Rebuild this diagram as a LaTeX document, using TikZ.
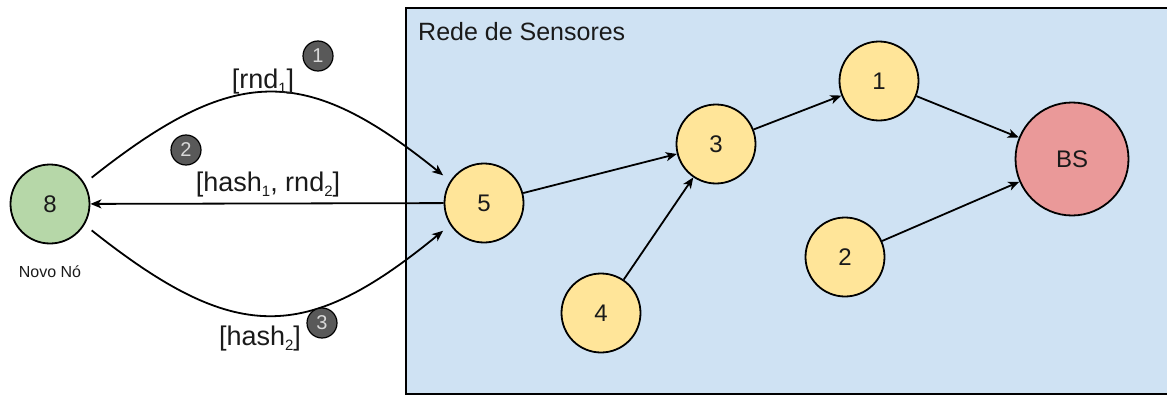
\documentclass[tikz,border=0pt]{standalone}
\usepackage{fontspec}
\setmainfont{Liberation Sans}
\usetikzlibrary{arrows.meta}
\definecolor{boxblue}{HTML}{CFE2F3}
\definecolor{nodeyellow}{HTML}{FFE599}
\definecolor{nodegreen}{HTML}{B6D7A8}
\definecolor{nodered}{HTML}{EA9999}
\definecolor{badgegrey}{HTML}{595959}
\definecolor{txt}{HTML}{1A1A1A}
\newcommand\lsub[1]{\raisebox{-0.35ex}{\fontsize{15}{17}\selectfont #1}}
\tikzset{
  sensor/.style={circle, draw=black, line width=1.8pt, fill=nodeyellow, minimum size=79pt, inner sep=0pt, text=txt, font=\fontsize{24}{28}\selectfont},
  newnode/.style={sensor, fill=nodegreen},
  basenode/.style={sensor, fill=nodered, minimum size=113pt},
  badge/.style={circle, draw=black, line width=1.2pt, fill=badgegrey, minimum size=30pt, inner sep=0pt, text=white!85!black, font=\fontsize{20}{22}\selectfont},
  msg/.style={text=txt, font=\fontsize{27}{32}\selectfont, inner sep=0pt},
  conn/.style={line width=1.8pt, -{Stealth[length=11pt,width=9pt,inset=3pt]}},
}
\begin{document}
\begin{tikzpicture}[x=1pt,y=-1pt]
\useasboundingbox (0,0) rectangle (1167,396);
\draw[line width=2pt, fill=boxblue] (406,8) rectangle (1170,394);
\node[anchor=west, text=txt, font=\fontsize{25}{30}\selectfont, inner sep=0pt] (title) at (418,32) {Rede de Sensores};

\node[newnode] (n8) at (50,204) {8};
\node[text=txt, font=\fontsize{16}{19}\selectfont, inner sep=0pt] (novo) at (50,272) {Novo Nó};

\node[sensor] (n5) at (484,203) {5};
\node[sensor] (n3) at (716,144) {3};
\node[sensor] (n4) at (601,313) {4};
\node[sensor] (n1) at (879,81) {1};
\node[sensor] (n2) at (845,257) {2};
\node[basenode] (bs) at (1072,159) {BS};

\draw[conn] (n5) -- (n3);
\draw[conn] (n4) -- (n3);
\draw[conn] (n3) -- (n1);
\draw[conn] (n1) -- (bs);
\draw[conn] (n2) -- (bs);

\draw[conn, shorten <=9pt, shorten >=9pt] (n8.31) .. controls (235,64) and (305,64) .. (n5.147);
\draw[conn] (n5) -- (n8);
\draw[conn, shorten <=9pt, shorten >=9pt] (n8.-31) .. controls (235,344) and (305,344) .. (n5.-147);

\node[msg] (m1) at (263,82) {[rnd\lsub{1}]};
\node[msg] (m2) at (268,185) {[hash\lsub{1}, rnd\lsub{2}]};
\node[msg] (m3) at (260,339) {[hash\lsub{2}]};

\node[badge] (b1) at (318,56) {1};
\node[badge] (b2) at (186,150) {2};
\node[badge] (b3) at (322,323) {3};
\end{tikzpicture}
\end{document}
